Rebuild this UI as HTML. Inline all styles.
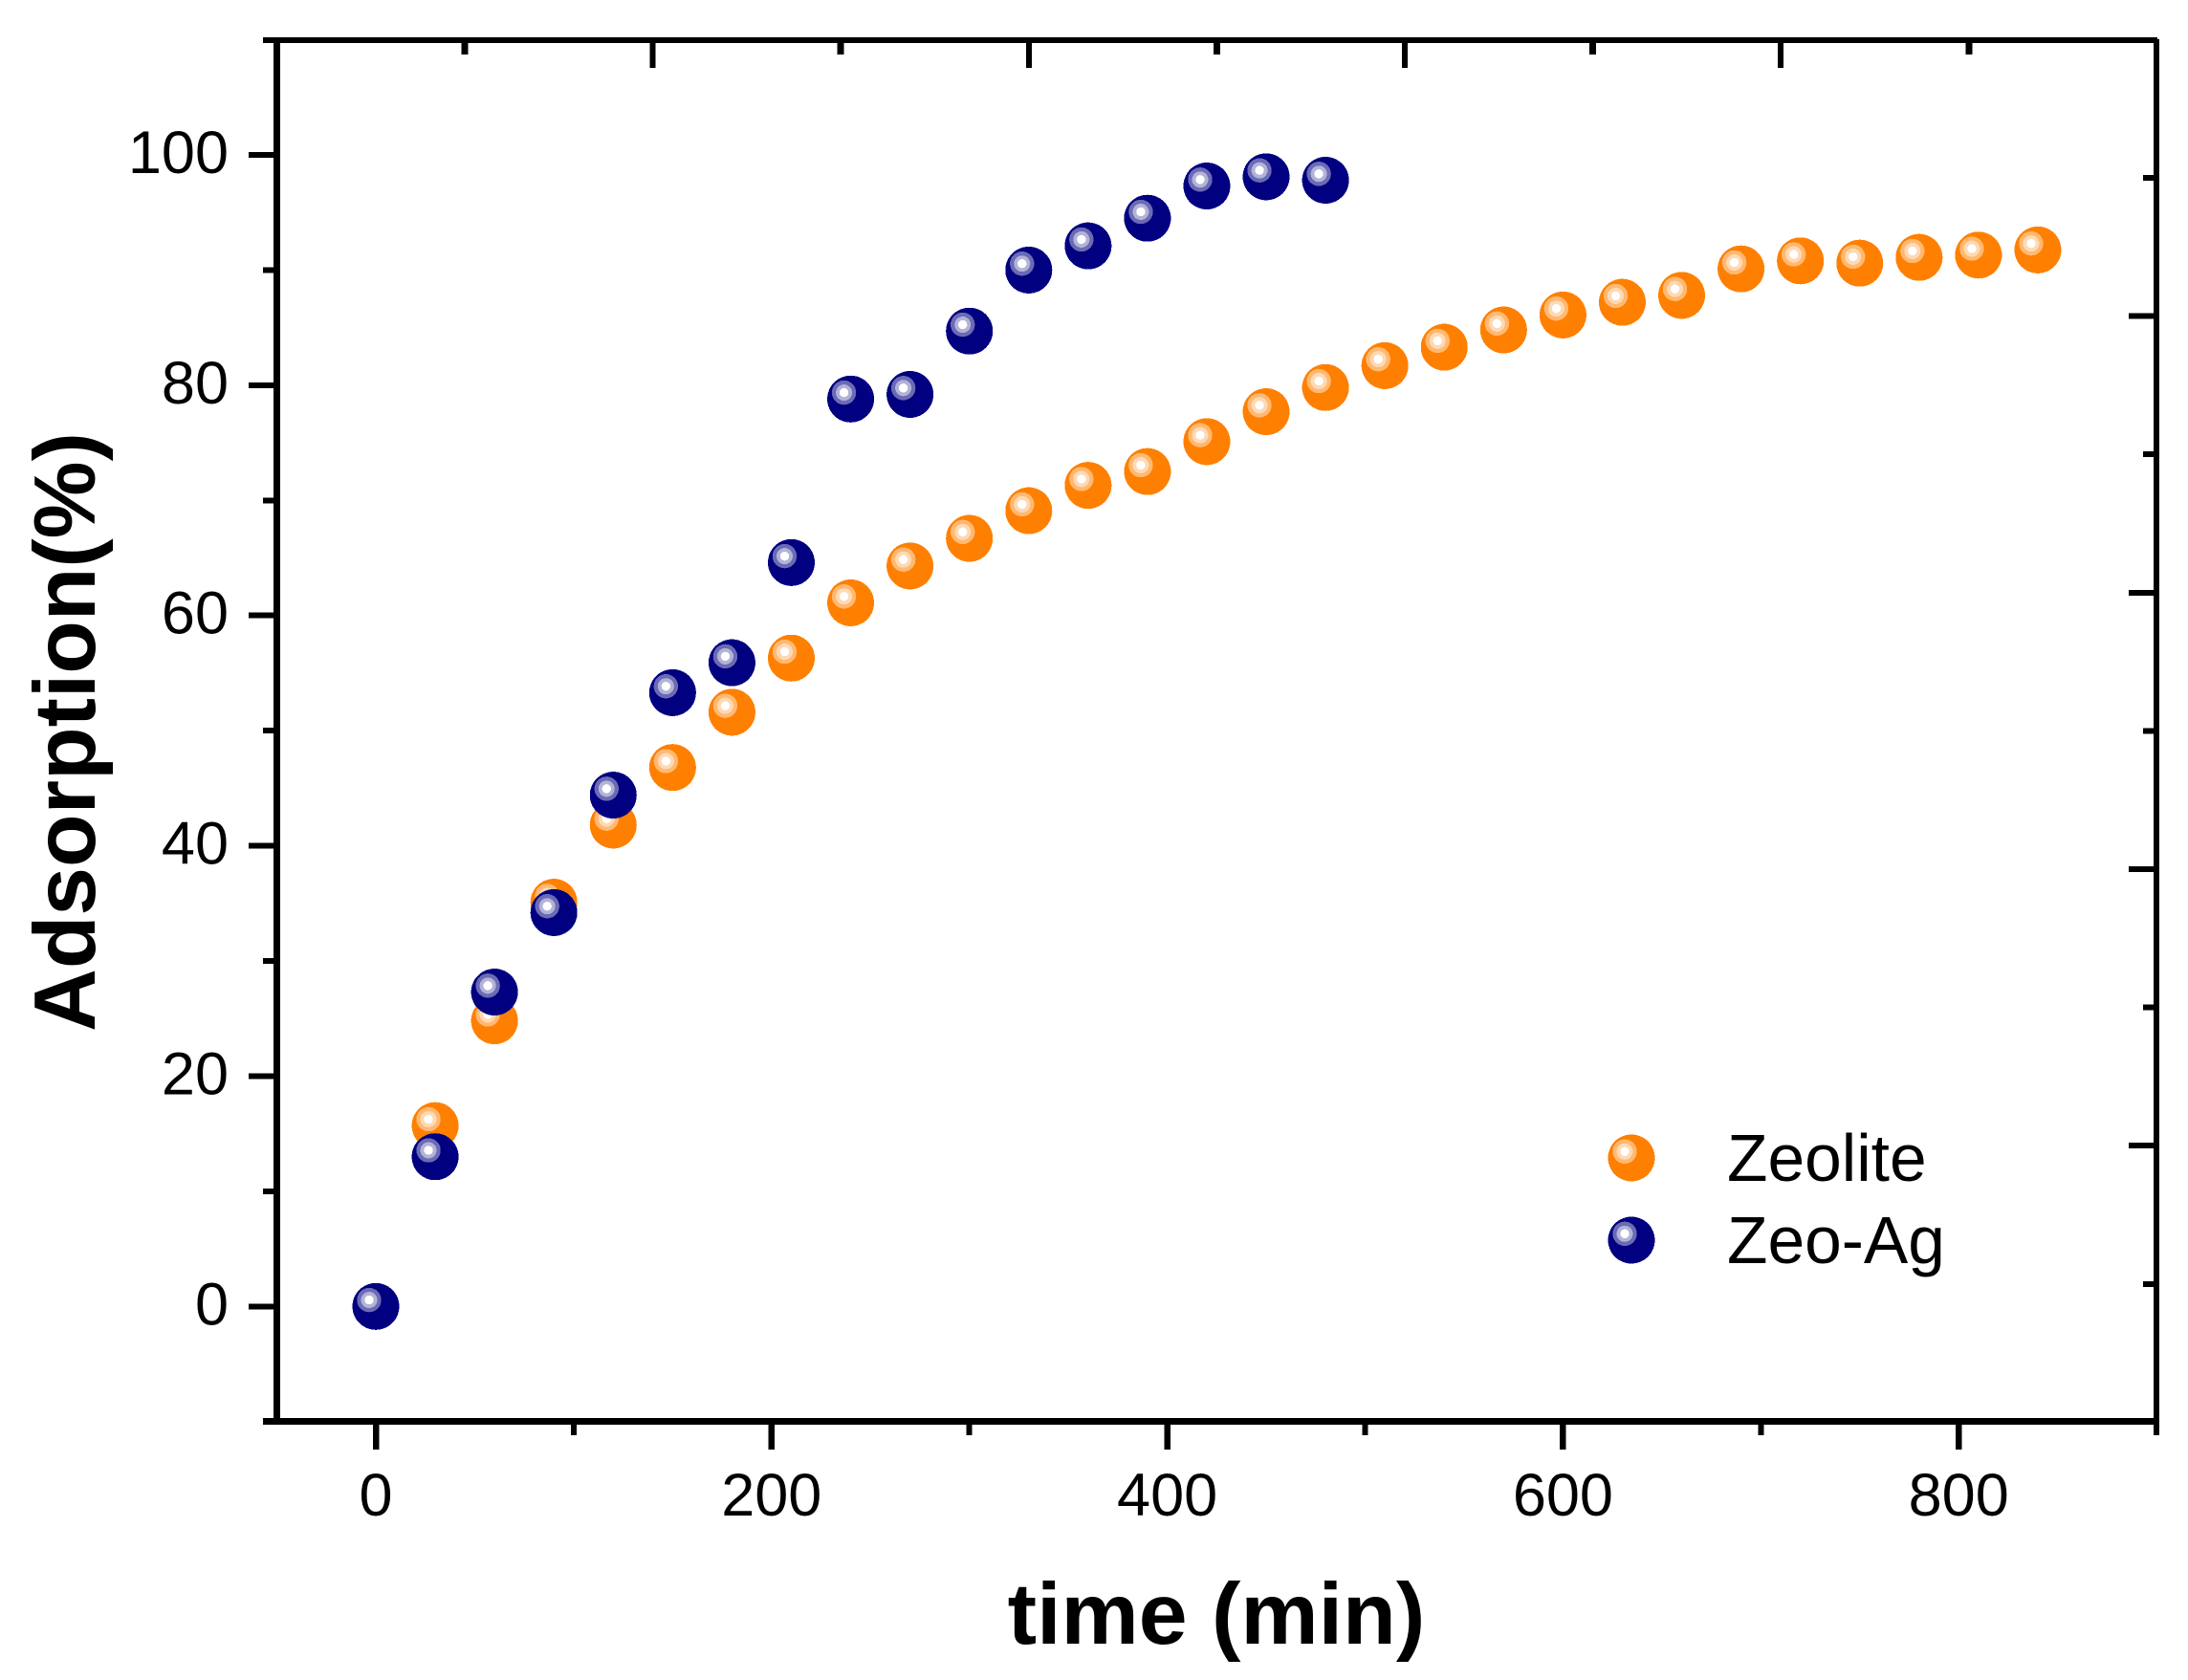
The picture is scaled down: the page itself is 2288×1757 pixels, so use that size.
<!DOCTYPE html>
<html lang="en">
<head>
<meta charset="utf-8">
<title>Adsorption vs time</title>
<style>
html,body{margin:0;padding:0;background:#fff;}
body{width:2288px;height:1757px;overflow:hidden;}
svg{display:block;}
text{font-family:"Liberation Sans",sans-serif;fill:#000;}
</style>
</head>
<body>
<svg id="chart" xmlns="http://www.w3.org/2000/svg" width="2288" height="1757" viewBox="0 0 2288 1757">
  <rect x="0" y="0" width="2288" height="1757" fill="#fff"/>
  <g id="spines" fill="#000" shape-rendering="crispEdges">
    <rect x="286" y="41" width="7" height="1445"/>
    <rect x="275" y="39" width="1981" height="6"/>
    <rect x="2252" y="41" width="6" height="1460"/>
    <rect x="275" y="1483" width="1983" height="7"/>
  </g>
  <g id="ticks" fill="#000" shape-rendering="crispEdges"></g>
  <g id="tick-labels"></g>
  <g id="series-zeolite" shape-rendering="crispEdges"></g>
  <g id="series-zeo-ag" shape-rendering="crispEdges"></g>
  <text x="1272" y="1719" text-anchor="middle" font-size="91.4" font-weight="bold">time (min)</text>
  <text transform="translate(99 765.5) rotate(-90)" text-anchor="middle" font-size="91" font-weight="bold">Adsorption(%)</text>
  <g id="legend" shape-rendering="crispEdges"></g>
  <text x="1806" y="1235" font-size="69.5">Zeolite</text>
  <text x="1806" y="1321" font-size="69.5">Zeo-Ag</text>
</svg>
<script>
const timeZeolite = [30,60,90,120,150,180,210,240,270,300,330,360,390,420,450,480,510,540,570,600,630,660,690,720,750,780,810,840];
const valuesZeolite = [15.7,24.8,35.1,41.8,46.8,51.6,56.3,61.1,64.3,66.7,69.1,71.3,72.5,75.1,77.7,79.8,81.7,83.3,84.8,86.1,87.2,87.8,90.1,90.8,90.6,91.1,91.3,91.75];
const timeZeoAg = [0,30,60,90,120,150,180,210,240,270,300,330,360,390,420,450,480];
const valuesZeoAg = [0,13,27.3,34.2,44.4,53.3,55.9,64.6,78.8,79.2,84.7,90,92.1,94.5,97.3,98.1,97.8];
const xMajorTicks = [0,200,400,600,800];
const xMinorTicks = [100,300,500,700];
const yMajorTicks = [0,20,40,60,80,100];
const yMinorTicks = [10,30,50,70,90];
const topMajorSteps = [1,3,5,7];
const topMinorSteps = [0,2,4,6,8];
const rightMajorSteps = [1,3,5,7];
const rightMinorSteps = [0,2,4,6,8];

const SVG_NS = 'http://www.w3.org/2000/svg';
const xScale = v => 393 + v * 2.069;
const yScale = v => 1366.3 - v * 12.043;
const topScale = i => 486 + i * 196.6;
const rightScale = i => 186 + i * 144.6;

function make(tag, attrs, parent) {
  const el = document.createElementNS(SVG_NS, tag);
  for (const k in attrs) el.setAttribute(k, attrs[k]);
  parent.appendChild(el);
  return el;
}

const tickGroup = document.getElementById('ticks');
const labelGroup = document.getElementById('tick-labels');

xMajorTicks.forEach(v => {
  const t = make('rect', {x: xScale(v) - 3.25, y: 1490, width: 6.5, height: 26}, tickGroup);
  
  
  const l = make('text', {x: xScale(v), y: 1585, 'text-anchor': 'middle', 'font-size': 63}, labelGroup);
  l.textContent = String(v);
  
  
});
xMinorTicks.forEach(v => {
  const t = make('rect', {x: xScale(v) - 3, y: 1490, width: 6, height: 11}, tickGroup);
  
  
});
yMajorTicks.forEach(v => {
  const t = make('rect', {x: 260, y: yScale(v) - 3, width: 26, height: 6}, tickGroup);
  
  
  const l = make('text', {x: 239, y: yScale(v) + 19, 'text-anchor': 'end', 'font-size': 63}, labelGroup);
  l.textContent = String(v);
  
  
});
yMinorTicks.forEach(v => {
  const t = make('rect', {x: 275, y: yScale(v) - 3, width: 11, height: 6}, tickGroup);
  
  
});
topMajorSteps.forEach(i => {
  const t = make('rect', {x: topScale(i) - 3, y: 45, width: 6, height: 26}, tickGroup);
  
  
});
topMinorSteps.forEach(i => {
  const t = make('rect', {x: topScale(i) - 3.5, y: 45, width: 7, height: 12}, tickGroup);
  
  
});
rightMajorSteps.forEach(i => {
  const t = make('rect', {x: 2226, y: rightScale(i) - 3, width: 26, height: 6}, tickGroup);
  
  
});
rightMinorSteps.forEach(i => {
  const t = make('rect', {x: 2241, y: rightScale(i) - 3, width: 11, height: 6}, tickGroup);
  
  
});

function drawBall(parent, cx, cy, colors) {
  const g = make('g', {}, parent);
  make('circle', {cx: cx, cy: cy, r: 24.5, fill: colors[0]}, g);
  make('circle', {cx: cx - 7, cy: cy - 6.7, r: 12.7, fill: colors[1]}, g);
  make('circle', {cx: cx - 7, cy: cy - 6.7, r: 8.5, fill: colors[2]}, g);
  make('circle', {cx: cx - 7, cy: cy - 6.7, r: 4.7, fill: '#ffffff'}, g);
  return g;
}

const orangeColors = ['#ff8000', '#ffb973', '#ffd9b3'];
const navyColors = ['#000080', '#6b6bb5', '#b3b3d9'];

const zeoliteGroup = document.getElementById('series-zeolite');
valuesZeolite.forEach((v, i) => {
  const m = drawBall(zeoliteGroup, xScale(timeZeolite[i]), yScale(v), orangeColors);
  
  
});
const zeoAgGroup = document.getElementById('series-zeo-ag');
valuesZeoAg.forEach((v, i) => {
  const m = drawBall(zeoAgGroup, xScale(timeZeoAg[i]), yScale(v), navyColors);
  
  
});

const legendGroup = document.getElementById('legend');
const legendZeolite = drawBall(legendGroup, 1706, 1211, orangeColors);


const legendZeoAg = drawBall(legendGroup, 1706, 1297, navyColors);


</script>
</body>
</html>
